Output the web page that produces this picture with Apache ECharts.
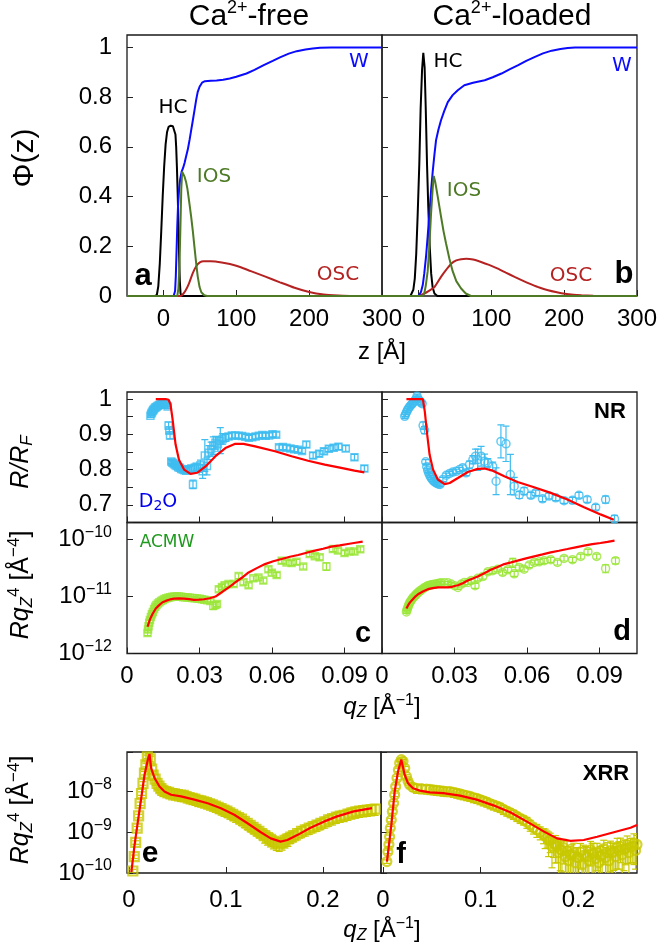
<!DOCTYPE html>
<html><head><meta charset="utf-8">
<script src="https://cdn.jsdelivr.net/npm/echarts@6/dist/echarts.min.js"></script>
<style>html,body{margin:0;padding:0;background:#fff}#c{width:660px;height:946px}</style>
</head><body><div id="c"></div>
<script>
const F = "'Liberation Sans', Arial, Helvetica, sans-serif";
const FD = "'DejaVu Sans', Verdana, sans-serif";

// ---------- Panel a (Ca2+-free) volume fraction profiles ----------
const zHCa = [-50,-12,-9,-7,-5,-3,-1,1,3,5,7,10,13,15,16.5,17.5,18.5,19.5,20.5,21.5,22.5,23.5,25,300];
const pHCa = [0,0,0.005,0.04,0.13,0.26,0.4,0.52,0.61,0.66,0.68,0.685,0.683,0.675,0.65,0.6,0.52,0.42,0.3,0.16,0.06,0.01,0,0];
const zWa = [-50,14,16,17,18,19,20,21.5,23,25,27,29,31,33.5,36,38,40,42.5,45,47,49.6,53,57,65,73,82,91,100,114,125,137,150,160,172,183,195,205,215,230,300];
const pWa = [0,0,0.02,0.08,0.18,0.28,0.36,0.43,0.47,0.5,0.515,0.535,0.56,0.59,0.63,0.665,0.7,0.745,0.79,0.82,0.842,0.858,0.864,0.866,0.867,0.87,0.875,0.882,0.895,0.91,0.928,0.946,0.96,0.975,0.985,0.992,0.996,0.999,1.0,1.0];
const zIOSa = [-50,19,20.5,22,23.5,24.5,25.7,27,29,31,33,35.8,38,40.4,42.5,45,47,49.6,52,56,60,300];
const pIOSa = [0,0,0.03,0.12,0.3,0.43,0.5,0.495,0.48,0.46,0.43,0.37,0.32,0.26,0.2,0.13,0.08,0.036,0.015,0.003,0,0];
const zOSCa = [-50,23,26,30,35,40,45,50,55,65,80,100,120,140,160,180,200,220,240,260,300];
const pOSCa = [0,0,0.005,0.02,0.05,0.09,0.12,0.135,0.14,0.14,0.135,0.122,0.1,0.078,0.055,0.033,0.016,0.006,0.002,0,0];

// ---------- Panel b (Ca2+-loaded) ----------
const zHCb = [-50,-11,-9,-7,-5,-3,-1,1.2,3,5,6.7,8.5,10,11.8,13.5,15.5,17.5,19.5,22,26,300];
const pHCb = [0,0,0.005,0.025,0.07,0.17,0.33,0.53,0.75,0.91,0.978,0.92,0.76,0.53,0.36,0.2,0.09,0.035,0.01,0,0];
const zWb = [-50,0,3.5,6,8,10.5,12.7,15,17.5,19.6,22,24.2,27.5,31,35.5,40.3,47,54,63,75,91,102,114,125,137,148,160,171,183,195,205,215,300];
const pWb = [0,0,0.016,0.045,0.09,0.16,0.24,0.33,0.43,0.5,0.57,0.627,0.67,0.707,0.745,0.78,0.808,0.828,0.848,0.858,0.868,0.88,0.895,0.912,0.929,0.946,0.962,0.976,0.987,0.994,0.998,1.0,1.0];
const zIOSb = [-50,6,8,10,12.7,15,17.3,19.5,21,23,26.5,31,34.5,38,42.5,47,52,58.6,65,72,300];
const pIOSb = [0,0,0.01,0.04,0.1,0.2,0.33,0.43,0.483,0.46,0.4,0.32,0.26,0.21,0.15,0.1,0.06,0.03,0.01,0,0];
const zOSCb = [-50,-1,8,15,22,31,38,45,52,58.6,65.5,75,86,97,109,120,132,143,155,166,178,190,201,213,224,240,261,300];
const pOSCb = [0,0,0.01,0.022,0.036,0.077,0.105,0.13,0.143,0.148,0.15,0.147,0.137,0.125,0.11,0.094,0.077,0.062,0.047,0.034,0.023,0.015,0.009,0.005,0.003,0.001,0,0];

// ---------- NR (D2O), R/RF ----------
const nrFreeQ = [0.0097,0.0100,0.0103,0.0106,0.0109,0.0112,0.0116,0.0120,0.0124,0.0128,0.0133,0.0138,0.0143,0.0148,0.0153,0.0158,0.0163,0.0168,0.0172,0.0175,0.0178,
  0.0183,0.0187,0.0191,0.0196,0.0201,0.0206,0.0212,0.0218,0.0224,0.0231,0.0238,0.0245,0.0252,0.0259,0.0266,0.0273,0.0280,0.0288,0.0296,0.0304,0.0313,
  0.0322,0.0331,0.0339,0.0348,0.0357,0.0366,0.0376,0.0386,0.0396,0.0407,0.0420,0.0434,0.0448,0.0462,0.0476,0.0490,0.0504,0.0518,0.0532,0.0546,0.0560,0.0574,0.0588,0.0602,0.0617,
  0.0629,0.0645,0.0660,0.0676,0.0692,0.0708,0.0724,0.0742,0.0770,0.0795,0.0815,0.0835,0.0855,0.0875,0.0905,0.0941,0.0982];
const nrFreeR = [0.953,0.958,0.962,0.966,0.969,0.972,0.975,0.977,0.979,0.981,0.983,0.984,0.985,0.986,0.986,0.985,0.984,0.979,0.925,0.911,0.897,
  0.823,0.820,0.818,0.815,0.812,0.810,0.807,0.805,0.802,0.800,0.798,0.797,0.799,0.801,0.803,0.758,0.805,0.808,0.803,0.812,0.795,
  0.840,0.810,0.848,0.858,0.868,0.876,0.872,0.882,0.887,0.890,0.894,0.897,0.897,0.896,0.895,0.893,0.890,0.892,0.894,0.896,0.898,0.896,0.897,0.900,0.899,
  0.863,0.864,0.862,0.860,0.858,0.856,0.853,0.871,0.840,0.845,0.852,0.859,0.862,0.865,0.860,0.835,0.803];
const nrFreeErr = [0.005,0.005,0.005,0.005,0.005,0.005,0.005,0.005,0.005,0.005,0.005,0.005,0.005,0.005,0.005,0.005,0.005,0.006,0.010,0.010,0.010,
  0.006,0.006,0.006,0.006,0.006,0.006,0.006,0.006,0.006,0.007,0.007,0.007,0.008,0.008,0.009,0.012,0.010,0.010,0.010,0.015,0.020,
  0.045,0.025,0.020,0.020,0.025,0.018,0.020,0.037,0.015,0.010,0.008,0.008,0.008,0.007,0.007,0.007,0.007,0.007,0.007,0.007,0.007,0.007,0.007,0.007,0.007,
  0.007,0.007,0.007,0.007,0.007,0.007,0.007,0.008,0.008,0.008,0.008,0.008,0.008,0.008,0.008,0.008,0.008];
const nrFreeFitQ = [0.0119,0.0140,0.0160,0.0172,0.0180,0.0188,0.0201,0.0215,0.0236,0.0263,0.0290,0.0325,0.0366,0.0407,0.0448,0.0482,0.0530,0.0612,0.0681,0.0749,0.0818,0.0886,0.0941,0.0982];
const nrFreeFitR = [1.0,1.0,1.0,0.998,0.985,0.946,0.871,0.828,0.800,0.788,0.791,0.809,0.838,0.861,0.873,0.873,0.866,0.852,0.838,0.825,0.814,0.805,0.797,0.792];

const nrLoadQ = [0.0094,0.0097,0.0101,0.0105,0.0109,0.0114,0.0119,0.0124,0.0129,0.0135,0.0140,0.0145,0.0150,0.0156,0.0161,0.0166,0.0170,0.0176,
  0.0181,0.0185,0.0189,0.0193,0.0198,0.0203,0.0208,0.0213,0.0218,0.0224,0.0230,0.0236,0.0240,
  0.0252,0.0266,0.0280,0.0293,0.0307,0.0321,0.0334,0.0348,0.0362,0.0376,0.0387,0.0396,0.0410,0.0424,0.0438,0.0458,0.0472,0.0492,0.0513,0.0531,0.0547,
  0.0568,0.0588,0.0616,0.0636,0.0664,0.0691,0.0719,0.0753,0.0788,0.0815,0.0849,0.0884,0.0925,0.0962];
const nrLoadR = [0.951,0.956,0.962,0.968,0.973,0.978,0.982,0.986,0.990,0.995,1.000,1.008,1.000,0.995,0.990,0.987,0.925,0.912,
  0.822,0.808,0.798,0.790,0.783,0.777,0.772,0.768,0.765,0.762,0.760,0.759,0.758,
  0.772,0.784,0.789,0.793,0.795,0.800,0.805,0.791,0.814,0.828,0.838,0.828,0.838,0.824,0.819,0.809,0.767,0.880,0.873,0.786,0.753,
  0.728,0.739,0.727,0.734,0.717,0.725,0.720,0.712,0.713,0.727,0.715,0.693,0.715,0.660];
const nrLoadErr = [0.006,0.006,0.006,0.006,0.006,0.006,0.006,0.006,0.006,0.006,0.006,0.006,0.006,0.006,0.006,0.006,0.010,0.010,
  0.006,0.006,0.006,0.006,0.006,0.006,0.006,0.006,0.006,0.006,0.006,0.006,0.006,
  0.006,0.006,0.006,0.006,0.006,0.006,0.008,0.008,0.010,0.012,0.020,0.030,0.028,0.020,0.012,0.012,0.038,0.047,0.050,0.057,0.025,
  0.010,0.010,0.008,0.008,0.008,0.008,0.008,0.008,0.008,0.008,0.008,0.008,0.010,0.010];
const nrLoadFitQ = [0.0101,0.0130,0.0169,0.0172,0.0177,0.0187,0.0197,0.0211,0.0231,0.0259,0.0280,0.0314,0.0355,0.0396,0.0424,0.0458,0.0506,0.0561,0.0629,0.0698,0.0767,0.0836,0.0904,0.0959];
const nrLoadFitR = [1.0,1.0,1.0,0.995,0.965,0.899,0.842,0.800,0.772,0.759,0.762,0.776,0.793,0.802,0.803,0.797,0.781,0.765,0.750,0.734,0.715,0.693,0.673,0.658];

// ---------- NR (ACMW), R qz^4 ----------
const acmwFreeQ = [0.0085,0.0087,0.0089,0.0092,0.0095,0.0099,0.0103,0.0107,0.0112,0.0117,0.0122,0.0128,0.0134,0.0141,0.0148,0.0155,0.0163,0.0171,0.0179,0.0188,
  0.0197,0.0206,0.0215,0.0224,0.0233,0.0242,0.0251,0.0260,0.0270,0.0280,0.0290,0.0300,0.0310,0.0320,0.0332,0.0345,0.0357,0.0366,0.0372,
  0.0380,0.0393,0.0404,0.0420,0.0441,0.0462,0.0482,0.0503,0.0523,0.0544,0.0564,0.0585,0.0599,0.0619,0.0640,0.0660,0.0681,0.0701,0.0729,0.0756,0.0777,0.0797,0.0825,0.0852,0.0873,0.0900,0.0920,0.0941,0.0965];
const acmwFreeR = [2.29e-12,2.63e-12,3.02e-12,3.47e-12,3.89e-12,4.37e-12,4.90e-12,5.37e-12,6.03e-12,6.61e-12,7.08e-12,7.59e-12,7.94e-12,8.32e-12,8.71e-12,9.02e-12,9.33e-12,9.55e-12,9.77e-12,9.89e-12,
  1.0e-11,1.0e-11,1.0e-11,9.89e-12,9.77e-12,9.73e-12,9.59e-12,9.55e-12,9.44e-12,9.33e-12,9.23e-12,9.12e-12,8.97e-12,8.81e-12,8.61e-12,8.39e-12,6.92e-12,7.08e-12,7.41e-12,
  1.35e-11,1.48e-11,1.58e-11,1.66e-11,1.66e-11,2.29e-11,1.78e-11,1.58e-11,2.09e-11,2.16e-11,1.91e-11,3.02e-11,2.63e-11,2.40e-11,4.27e-11,3.98e-11,3.89e-11,4.07e-11,3.39e-11,5.62e-11,5.13e-11,4.90e-11,3.39e-11,6.84e-11,6.46e-11,5.82e-11,6.17e-11,6.17e-11,6.76e-11];
const acmwFreeErr = [0.1,0.1,0.1,0.1,0.1,0.08,0.08,0.08,0.08,0.08,0.06,0.06,0.06,0.06,0.06,0.06,0.06,0.06,0.06,0.06,
  0.06,0.06,0.06,0.06,0.06,0.06,0.06,0.06,0.06,0.06,0.06,0.06,0.06,0.06,0.06,0.08,0.15,0.12,0.10,
  0.10,0.10,0.10,0.10,0.10,0.10,0.10,0.10,0.10,0.10,0.10,0.10,0.10,0.10,0.10,0.10,0.10,0.10,0.10,0.10,0.10,0.10,0.15,0.10,0.10,0.10,0.10,0.10,0.10];
const acmwFreeFitQ = [0.0085,0.0095,0.0105,0.0119,0.0133,0.0147,0.0160,0.0178,0.0195,0.0215,0.0236,0.0257,0.0277,0.0298,0.0318,0.0342,0.0366,0.0383,0.0400,0.0424,
  0.0448,0.0475,0.0503,0.0537,0.0571,0.0605,0.0640,0.0674,0.0708,0.0743,0.0777,0.0811,0.0845,0.0880,0.0914,0.0945,0.0975];
const acmwFreeFitR = [2.95e-12,3.98e-12,4.90e-12,6.17e-12,7.08e-12,7.94e-12,8.39e-12,8.91e-12,9.23e-12,9.29e-12,9.23e-12,9.02e-12,8.73e-12,8.81e-12,8.97e-12,9.33e-12,1.0e-11,1.12e-11,1.26e-11,1.48e-11,
  1.77e-11,2.14e-11,2.65e-11,3.16e-11,3.72e-11,4.17e-11,4.57e-11,5.01e-11,5.37e-11,5.89e-11,6.40e-11,6.92e-11,7.52e-11,7.94e-11,8.39e-11,8.81e-11,9.23e-11];

const acmwLoadQ = [0.0101,0.0103,0.0105,0.0108,0.0110,0.0113,0.0117,0.0120,0.0124,0.0128,0.0133,0.0138,0.0142,0.0147,0.0152,0.0158,0.0163,0.0170,0.0177,0.0184,
  0.0190,0.0197,0.0204,0.0211,0.0218,0.0225,0.0231,0.0238,0.0245,0.0259,0.0273,0.0286,0.0300,0.0314,0.0328,0.0341,0.0355,0.0369,0.0385,0.0396,
  0.0417,0.0438,0.0458,0.0479,0.0499,0.0520,0.0541,0.0547,0.0568,0.0588,0.0609,0.0630,0.0650,0.0671,0.0698,0.0726,0.0753,0.0788,0.0822,0.0852,0.0888,0.0925,0.0966];
const acmwLoadR = [5.37e-12,5.75e-12,6.17e-12,6.61e-12,7.03e-12,7.59e-12,8.05e-12,8.51e-12,8.97e-12,9.55e-12,1.0e-11,1.05e-11,1.10e-11,1.15e-11,1.21e-11,1.26e-11,1.31e-11,1.38e-11,1.45e-11,1.50e-11,
  1.55e-11,1.58e-11,1.61e-11,1.63e-11,1.65e-11,1.67e-11,1.70e-11,1.72e-11,1.74e-11,1.74e-11,1.74e-11,1.66e-11,1.55e-11,1.45e-11,1.66e-11,1.77e-11,1.77e-11,1.91e-11,1.55e-11,2.09e-11,
  2.25e-11,2.72e-11,2.84e-11,3.03e-11,2.65e-11,2.95e-11,3.98e-11,2.51e-11,3.25e-11,3.03e-11,3.57e-11,3.98e-11,4.07e-11,4.27e-11,4.44e-11,3.98e-11,4.68e-11,4.44e-11,5.08e-11,6.14e-11,5.08e-11,3.12e-11,4.27e-11];
const acmwLoadErr = [0.06,0.06,0.06,0.06,0.06,0.06,0.06,0.06,0.06,0.06,0.06,0.06,0.06,0.06,0.06,0.06,0.06,0.06,0.06,0.06,
  0.06,0.06,0.06,0.06,0.06,0.06,0.06,0.06,0.06,0.06,0.06,0.06,0.08,0.08,0.08,0.08,0.08,0.10,0.10,0.10,
  0.10,0.10,0.10,0.10,0.10,0.10,0.18,0.10,0.10,0.10,0.10,0.10,0.10,0.10,0.10,0.10,0.10,0.10,0.10,0.10,0.10,0.16,0.12];
const acmwLoadFitQ = [0.0101,0.0111,0.0121,0.0135,0.0149,0.0169,0.0190,0.0210,0.0231,0.0252,0.0273,0.0293,0.0314,0.0334,0.0355,0.0376,0.0396,0.0423,0.0450,0.0478,
  0.0506,0.0534,0.0561,0.0596,0.0630,0.0664,0.0698,0.0732,0.0767,0.0801,0.0836,0.0870,0.0904,0.0933,0.0962];
const acmwLoadFitR = [6.17e-12,7.41e-12,8.39e-12,9.77e-12,1.10e-11,1.23e-11,1.35e-11,1.41e-11,1.45e-11,1.45e-11,1.45e-11,1.50e-11,1.58e-11,1.72e-11,1.91e-11,2.07e-11,2.25e-11,2.57e-11,2.95e-11,3.31e-11,
  3.72e-11,3.98e-11,4.27e-11,4.68e-11,5.08e-11,5.50e-11,5.97e-11,6.38e-11,6.84e-11,7.33e-11,7.83e-11,8.32e-11,8.73e-11,9.12e-11,9.59e-11];

// ---------- XRR, R qz^4 ----------
const xrrFreeQ = [0.0040,0.0055,0.0070,0.0085,0.0100,0.0115,0.0130,0.0145,0.0160,0.0175,0.0190,0.0205,0.0220,0.0235,0.0250,0.0270,0.0290,0.0310,0.0330,0.0350,
  0.0380,0.0410,0.0440,0.0470,0.0500,0.0530,0.0560,0.0590,0.0620,0.0650,0.0680,0.0710,0.0740,0.0770,0.0800,0.0830,0.0860,0.0890,0.0920,0.0950,
  0.0980,0.1010,0.1040,0.1070,0.1100,0.1130,0.1160,0.1190,0.1220,0.1250,0.1280,0.1310,0.1340,0.1370,0.1400,0.1430,0.1460,0.1490,0.1520,0.1550,
  0.1580,0.1610,0.1640,0.1670,0.1700,0.1740,0.1780,0.1820,0.1860,0.1900,0.1940,0.1980,0.2020,0.2060,0.2100,0.2140,0.2180,0.2220,0.2260,0.2300,
  0.2340,0.2380,0.2420,0.2460,0.2500,0.2540];
const xrrFreeR = [1.12e-10,2.51e-10,5.62e-10,1.26e-9,2.51e-9,5.01e-9,8.91e-9,1.58e-8,2.82e-8,4.47e-8,7.08e-8,9.55e-8,6.31e-8,3.55e-8,2.51e-8,2.0e-8,1.58e-8,1.35e-8,1.17e-8,1.07e-8,
  1.0e-8,9.5e-9,8.9e-9,8.8e-9,8.4e-9,8.1e-9,8.0e-9,7.5e-9,7.1e-9,6.8e-9,6.5e-9,6.1e-9,5.9e-9,5.6e-9,5.3e-9,5.0e-9,4.7e-9,4.4e-9,4.1e-9,3.8e-9,
  3.5e-9,3.3e-9,3.0e-9,2.75e-9,2.5e-9,2.3e-9,2.1e-9,1.86e-9,1.66e-9,1.48e-9,1.32e-9,1.17e-9,1.05e-9,9.3e-10,8.3e-10,7.4e-10,6.7e-10,6.0e-10,5.5e-10,5.2e-10,
  5.6e-10,6.3e-10,6.9e-10,7.6e-10,8.3e-10,9.3e-10,1.05e-9,1.15e-9,1.26e-9,1.38e-9,1.5e-9,1.65e-9,1.8e-9,2.0e-9,2.15e-9,2.35e-9,2.5e-9,2.6e-9,2.8e-9,3.0e-9,
  3.15e-9,3.3e-9,3.4e-9,3.5e-9,3.6e-9,3.7e-9];
const xrrFreeErr = [0.1,0.1,0.1,0.1,0.1,0.1,0.1,0.1,0.1,0.1,0.1,0.1,0.15,0.2,0.25,0.3,0.3,0.3,0.3,0.3,
  0.3,0.3,0.3,0.3,0.3,0.3,0.3,0.3,0.3,0.3,0.3,0.3,0.3,0.3,0.3,0.3,0.3,0.3,0.3,0.3,
  0.3,0.3,0.3,0.3,0.3,0.3,0.3,0.3,0.3,0.3,0.3,0.3,0.3,0.3,0.35,0.35,0.35,0.35,0.35,0.35,
  0.35,0.35,0.35,0.3,0.3,0.3,0.3,0.3,0.3,0.3,0.3,0.3,0.3,0.3,0.3,0.3,0.3,0.3,0.3,0.3,
  0.3,0.3,0.3,0.3,0.3,0.3];
const xrrFreeFitQ = [0.0025,0.0058,0.0092,0.0127,0.0161,0.0195,0.0212,0.0229,0.0264,0.0315,0.0366,0.0435,0.0538,0.0675,0.0812,0.0949,0.1086,0.1223,0.1360,0.1462,
  0.1565,0.1634,0.1736,0.1873,0.2010,0.2147,0.2318,0.2507];
const xrrFreeFitR = [1.05e-10,4.9e-10,1.82e-9,6.92e-9,2.57e-8,6.03e-8,8.32e-8,3.72e-8,2.14e-8,1.32e-8,1.0e-8,8.32e-9,7.59e-9,6.31e-9,5.13e-9,3.89e-9,2.69e-9,1.66e-9,1.0e-9,7.08e-10,
  5.89e-10,6.46e-10,8.51e-10,1.29e-9,1.82e-9,2.45e-9,3.24e-9,3.89e-9];

const xrrLoadQ = [0.0040,0.0051,0.0061,0.0068,0.0075,0.0085,0.0096,0.0109,0.0120,0.0130,0.0144,0.0158,0.0171,0.0188,0.0205,0.0223,0.0240,0.0257,0.0274,0.0308,
  0.0342,0.0394,0.0445,0.0480,0.0514,0.0548,0.0582,0.0617,0.0651,0.0685,0.0720,0.0754,0.0788,0.0822,0.0856,0.0890,0.0925,0.0959,0.0993,0.1027,
  0.1062,0.1096,0.1130,0.1165,0.1199,0.1233,0.1267,0.1302,0.1336,0.1370,0.1404,0.1438,0.1473,0.1507,0.1541,0.1575,0.1610,0.1644,0.1678,0.1712,
  0.1747,0.1781,0.1815,0.1850,0.1884,0.1918,0.1952,0.1987,0.2021,0.2055,0.2090,0.2124,0.2158,0.2192,0.2226,0.2260,0.2295,0.2329,0.2363,0.2397,
  0.2432,0.2466,0.2500,0.2534,0.2569,0.2600];
const xrrLoadR = [1.91e-10,3.31e-10,5.01e-10,7.76e-10,1.26e-9,2.0e-9,3.24e-9,5.13e-9,8.32e-9,1.32e-8,2.14e-8,3.39e-8,5.01e-8,6.03e-8,5.5e-8,3.72e-8,2.34e-8,1.78e-8,1.45e-8,1.26e-8,
  1.2e-8,1.17e-8,1.15e-8,1.12e-8,1.1e-8,1.07e-8,1.05e-8,1.02e-8,1.0e-8,1.0e-8,9.55e-9,9.12e-9,8.71e-9,8.32e-9,7.94e-9,7.59e-9,7.08e-9,6.76e-9,6.31e-9,5.89e-9,
  5.5e-9,5.01e-9,4.68e-9,4.37e-9,4.07e-9,3.63e-9,3.31e-9,3.02e-9,2.75e-9,2.45e-9,2.19e-9,2.0e-9,1.78e-9,1.51e-9,1.29e-9,1.15e-9,1.0e-9,8.71e-10,7.41e-10,6.31e-10,
  5.37e-10,4.47e-10,3.8e-10,4.17e-10,3.47e-10,2.75e-10,3.16e-10,2.4e-10,3.31e-10,2.75e-10,2.51e-10,3.72e-10,3.02e-10,3.24e-10,2.63e-10,3.98e-10,3.16e-10,3.55e-10,3.31e-10,4.17e-10,
  4.47e-10,3.8e-10,4.9e-10,4.37e-10,5.37e-10,5.01e-10];
const xrrLoadErr = [0.1,0.1,0.1,0.1,0.1,0.1,0.1,0.1,0.1,0.1,0.1,0.1,0.1,0.1,0.1,0.1,0.1,0.1,0.15,0.2,
  0.25,0.25,0.25,0.25,0.25,0.25,0.25,0.25,0.25,0.25,0.25,0.25,0.25,0.25,0.25,0.25,0.25,0.25,0.25,0.25,
  0.25,0.25,0.25,0.25,0.25,0.25,0.25,0.25,0.25,0.25,0.25,0.25,0.3,0.3,0.3,0.35,0.35,0.4,0.45,0.5,
  0.55,0.6,0.7,0.6,0.75,0.65,0.7,0.75,0.6,0.75,0.7,0.6,0.75,0.65,0.7,0.6,0.75,0.7,0.65,0.7,
  0.6,0.7,0.65,0.6,0.7,0.65];
const xrrLoadQ2 = [0.1660,0.1695,0.1730,0.1765,0.1798,0.1832,0.1867,0.1901,0.1935,0.1970,0.2004,0.2038,0.2073,0.2107,0.2141,0.2175,0.2209,0.2243,0.2278,0.2312,
  0.2346,0.2380,0.2414,0.2449,0.2483,0.2517,0.2551,0.2585];
const xrrLoadR2 = [7.94e-10,6.31e-10,4.47e-10,5.01e-10,3.16e-10,3.55e-10,2.51e-10,2.0e-10,2.82e-10,1.78e-10,2.4e-10,1.58e-10,2.63e-10,2.0e-10,3.16e-10,2.24e-10,1.78e-10,2.82e-10,2.4e-10,2.0e-10,
  3.16e-10,2.51e-10,3.55e-10,2.82e-10,3.98e-10,3.16e-10,4.47e-10,3.55e-10];
const xrrLoadErr2 = [0.5,0.6,0.7,0.65,0.75,0.7,0.8,0.8,0.75,0.8,0.75,0.8,0.7,0.8,0.7,0.75,0.8,0.7,0.75,0.8,
  0.7,0.75,0.65,0.7,0.6,0.7,0.6,0.65];
const xrrLoadFitQ = [0.0041,0.0086,0.0120,0.0154,0.0188,0.0222,0.0257,0.0308,0.0377,0.0480,0.0617,0.0788,0.0959,0.1130,0.1302,0.1473,0.1644,0.1781,0.1918,0.2055,0.2192,0.2363,0.2534,0.2600];
const xrrLoadFitR = [1.91e-10,1.51e-9,1.0e-8,3.09e-8,6.03e-8,2.57e-8,1.58e-8,1.2e-8,1.05e-8,9.55e-9,9.12e-9,7.94e-9,6.31e-9,4.57e-9,3.09e-9,1.82e-9,1.05e-9,7.08e-10,6.17e-10,6.46e-10,7.76e-10,1.0e-9,1.29e-9,1.51e-9];

// ---------- tick values ----------
const zTicks = [0,100,200,300];
const phiTicks = [0,0.2,0.4,0.6,0.8,1];
const qNRTicks = [0,0.03,0.06,0.09];
const rrfTicks = [0.7,0.75,0.8,0.85,0.9,0.95,1];
const rrfLabels = [0.7,0.8,0.9,1];
const qXRRTicks = [0,0.1,0.2];

// ---------- colours ----------
const C_HC = '#000000', C_W = '#0a0aff', C_IOS = '#4e7a26', C_OSC = '#b52222';
const C_NR = '#3fbdf0', C_ACMW = '#9be63a', C_XRR = '#c8c800', C_FIT = '#ff0000';

// ---------- layout ----------
const grids = [
  {left:127, top:35, width:255, height:261},
  {left:382, top:35, width:255, height:261},
  {left:127, top:392, width:255, height:130.5},
  {left:382, top:392, width:255, height:130.5},
  {left:127, top:522.5, width:255, height:131},
  {left:382, top:522.5, width:255, height:131},
  {left:127, top:752, width:254, height:121},
  {left:381, top:752, width:256, height:121}
].map(g => Object.assign({show:true, borderColor:'#1a1a1a', borderWidth:1.3, backgroundColor:'rgba(0,0,0,0)'}, g));

const tickStyle = {show:true, inside:true, length:6, lineStyle:{color:'#222', width:1}};
const labStyle = {color:'#000', fontSize:24, fontFamily:F};
const noLine = {show:false, onZero:false};

function xAx(i, min, max, ticks, show, margin) {
  return {type:'value', gridIndex:i, position:'bottom', min, max, axisLine:noLine, splitLine:{show:false},
    axisTick:Object.assign({customValues:ticks}, tickStyle),
    axisLabel:Object.assign({show, customValues:ticks, margin}, labStyle)};
}
function yAx(i, min, max, ticks, labels, show) {
  return {type:'value', gridIndex:i, position:'left', min, max, axisLine:noLine, splitLine:{show:false},
    axisTick:Object.assign({customValues:ticks}, tickStyle),
    axisLabel:Object.assign({show, customValues:labels, margin:15}, labStyle)};
}
function logFmt(v) {
  const e = Math.log10(v), r = Math.round(e);
  if (Math.abs(e - r) > 1e-3) return '';
  return '{b|10}{s|' + (r < 0 ? '\u2212' : '') + Math.abs(r) + '}';
}
function yLog(i, min, max, show) {
  return {type:'log', logBase:10, gridIndex:i, position:'left', min, max, axisLine:noLine, splitLine:{show:false},
    axisTick:tickStyle,
    axisLabel:{show, margin:15, formatter:logFmt, color:'#000',
      rich:{b:{fontSize:24, fontFamily:F, color:'#000', lineHeight:30},
            s:{fontSize:16, fontFamily:F, color:'#000', lineHeight:16, verticalAlign:'top'}}}};
}

const xAxes = [
  xAx(0, -50, 300, zTicks, true, 11), xAx(1, -50, 300, zTicks, true, 11),
  xAx(2, 0, 0.1055, qNRTicks, false, 11), xAx(3, 0, 0.1055, qNRTicks, false, 11),
  xAx(4, 0, 0.1055, qNRTicks, true, 11), xAx(5, 0, 0.1055, qNRTicks, true, 11),
  xAx(6, -0.002, 0.26, qXRRTicks, true, 15), xAx(7, -0.002, 0.26, qXRRTicks, true, 15)
];
const yAxes = [
  yAx(0, 0, 1.05, phiTicks, phiTicks, true), yAx(1, 0, 1.05, phiTicks, phiTicks, false),
  yAx(2, 0.65, 1.02, rrfTicks, rrfLabels, true), yAx(3, 0.65, 1.02, rrfTicks, rrfLabels, false),
  yLog(4, 1e-12, 2e-10, true), yLog(5, 1e-12, 2e-10, false),
  yLog(6, 1e-10, 9.3e-8, true), yLog(7, 1e-10, 9.3e-8, false)
];

function pts(xs, ys) { return xs.map((x, k) => [x, ys[k]]); }
function prof(i, zs, ps, color, smooth) {
  return {type:'line', xAxisIndex:i, yAxisIndex:i, data:pts(zs, ps), showSymbol:false, symbol:'none',
    smooth, lineStyle:{color, width:2}, silent:true, clip:true, z:3};
}
function fit(i, xs, ys, smooth) {
  return {type:'line', xAxisIndex:i, yAxisIndex:i, data:pts(xs, ys), showSymbol:false, symbol:'none',
    smooth, lineStyle:{color:C_FIT, width:2.2}, silent:true, clip:true, z:6};
}
function scat(i, xs, ys, sym, size, color, bw) {
  return {type:'scatter', xAxisIndex:i, yAxisIndex:i, data:pts(xs, ys), symbol:sym, symbolSize:size,
    itemStyle:{color:'rgba(0,0,0,0)', borderColor:color, borderWidth:bw}, silent:true, clip:true, z:4};
}
function errs(i, xs, ys, es, rel, color, cap) {
  const data = xs.map((x, k) => { const e = rel ? ys[k] * es[k] : es[k]; return [x, ys[k] - e, ys[k] + e]; });
  return {type:'custom', xAxisIndex:i, yAxisIndex:i, data, encode:{x:0, y:[1, 2]}, silent:true, clip:true, z:4,
    renderItem(params, api) {
      const a = api.coord([api.value(0), api.value(1)]);
      const b = api.coord([api.value(0), api.value(2)]);
      const st = {stroke:color, lineWidth:1.2};
      return {type:'group', children:[
        {type:'line', shape:{x1:a[0], y1:a[1], x2:b[0], y2:b[1]}, style:st},
        {type:'line', shape:{x1:a[0]-cap, y1:a[1], x2:a[0]+cap, y2:a[1]}, style:st},
        {type:'line', shape:{x1:b[0]-cap, y1:b[1], x2:b[0]+cap, y2:b[1]}, style:st}]};
    }};
}

const series = [
  prof(0, zHCa, pHCa, C_HC, false), prof(0, zOSCa, pOSCa, C_OSC, 0.2), prof(0, zWa, pWa, C_W, false), prof(0, zIOSa, pIOSa, C_IOS, false),
  prof(1, zHCb, pHCb, C_HC, false), prof(1, zOSCb, pOSCb, C_OSC, 0.2), prof(1, zWb, pWb, C_W, false), prof(1, zIOSb, pIOSb, C_IOS, false),
  errs(2, nrFreeQ, nrFreeR, nrFreeErr, false, C_NR, 3.5), scat(2, nrFreeQ, nrFreeR, 'rect', 7, C_NR, 1.5), fit(2, nrFreeFitQ, nrFreeFitR, false),
  errs(3, nrLoadQ, nrLoadR, nrLoadErr, false, C_NR, 3.5), scat(3, nrLoadQ, nrLoadR, 'circle', 8, C_NR, 1.5), fit(3, nrLoadFitQ, nrLoadFitR, false),
  errs(4, acmwFreeQ, acmwFreeR, acmwFreeErr, true, C_ACMW, 3.5), scat(4, acmwFreeQ, acmwFreeR, 'rect', 7, C_ACMW, 1.5), fit(4, acmwFreeFitQ, acmwFreeFitR, false),
  errs(5, acmwLoadQ, acmwLoadR, acmwLoadErr, true, C_ACMW, 3.5), scat(5, acmwLoadQ, acmwLoadR, 'circle', 8, C_ACMW, 1.5), fit(5, acmwLoadFitQ, acmwLoadFitR, false),
  errs(6, xrrFreeQ, xrrFreeR, xrrFreeErr, true, C_XRR, 3.5), scat(6, xrrFreeQ, xrrFreeR, 'rect', 9, C_XRR, 2.2), fit(6, xrrFreeFitQ, xrrFreeFitR, false),
  errs(7, xrrLoadQ, xrrLoadR, xrrLoadErr, true, C_XRR, 3.5), scat(7, xrrLoadQ, xrrLoadR, 'circle', 9, C_XRR, 2.2),
  errs(7, xrrLoadQ2, xrrLoadR2, xrrLoadErr2, true, C_XRR, 3.5), scat(7, xrrLoadQ2, xrrLoadR2, 'circle', 9, C_XRR, 2.2),
  fit(7, xrrLoadFitQ, xrrLoadFitR, false)
];

// ---------- texts ----------
function T(x, y, text, style, extra) {
  return Object.assign({type:'text', x, y, z:100, silent:true,
    style:Object.assign({text, fill:'#000', align:'center', verticalAlign:'middle'}, style)}, extra || {});
}
const titleRich = {n:{fontSize:30, fontFamily:F, lineHeight:36}, s:{fontSize:18, fontFamily:F, lineHeight:18, verticalAlign:'top'}};
const qRich = {i:{fontSize:24, fontFamily:F, fontStyle:'italic', lineHeight:28}, z:{fontSize:16, fontFamily:F, fontStyle:'italic', lineHeight:16, verticalAlign:'bottom'},
  n:{fontSize:24, fontFamily:F, lineHeight:28}, s:{fontSize:16, fontFamily:F, lineHeight:16, verticalAlign:'top'}};
const rqRich = {i:{fontSize:25, fontFamily:F, fontStyle:'italic', lineHeight:30}, z:{fontSize:17, fontFamily:F, fontStyle:'italic', lineHeight:17, verticalAlign:'bottom'},
  n:{fontSize:25, fontFamily:F, lineHeight:30}, s:{fontSize:17, fontFamily:F, lineHeight:17, verticalAlign:'top'}};
const rot = {rotation:Math.PI / 2};
const fCurve = {fontSize:20, fontFamily:FD};

const texts = [
  T(249, 17, '{n|Ca}{s|2+}{n|-free}', {rich:titleRich}),
  T(512, 17, '{n|Ca}{s|2+}{n|-loaded}', {rich:titleRich}),
  T(382, 352, 'z [\u00c5]', {fontSize:24, fontFamily:F}),
  T(382, 707, '{i|q}{z|Z}{n| [\u00c5}{s|\u22121}{n|]}', {rich:qRich}),
  T(382, 930, '{i|q}{z|Z}{n| [\u00c5}{s|\u22121}{n|]}', {rich:qRich}),
  T(25, 158, '\u03a6(z)', {fontSize:30, fontFamily:F}, rot),
  T(21, 462, '{i|R/R}{z|F}', {rich:{i:{fontSize:25, fontFamily:F, fontStyle:'italic', lineHeight:30}, z:{fontSize:17, fontFamily:F, fontStyle:'italic', lineHeight:17, verticalAlign:'bottom'}}}, rot),
  T(21, 585, '{i|Rq}{z|Z}{s|4}{n| [\u00c5}{s|\u22124}{n|]}', {rich:rqRich}, rot),
  T(21, 810, '{i|Rq}{z|Z}{s|4}{n| [\u00c5}{s|\u22124}{n|]}', {rich:rqRich}, rot),
  // panel a
  T(173, 108, 'HC', Object.assign({fill:C_HC}, fCurve)),
  T(359, 62, 'W', Object.assign({fill:C_W}, fCurve)),
  T(214, 177, 'IOS', Object.assign({fill:C_IOS}, fCurve)),
  T(338, 275, 'OSC', Object.assign({fill:C_OSC}, fCurve)),
  T(143, 276, 'a', {fontSize:31, fontWeight:'bold', fontFamily:F}),
  // panel b
  T(448, 62, 'HC', Object.assign({fill:C_HC}, fCurve)),
  T(622, 66, 'W', Object.assign({fill:C_W}, fCurve)),
  T(464, 191, 'IOS', Object.assign({fill:C_IOS}, fCurve)),
  T(571, 276, 'OSC', Object.assign({fill:C_OSC}, fCurve)),
  T(624, 274, 'b', {fontSize:31, fontWeight:'bold', fontFamily:F}),
  // NR / ACMW
  T(158, 502, '{n|D}{s|2}{n|O}', {fill:'#0000ee', rich:{n:{fontSize:19, fontFamily:FD, fill:'#0000ee', lineHeight:22}, s:{fontSize:14, fontFamily:FD, fill:'#0000ee', lineHeight:14, verticalAlign:'bottom'}}}),
  T(610, 412, 'NR', {fontSize:22, fontWeight:'bold', fontFamily:F}),
  T(167, 543, 'ACMW', {fontSize:17, fontFamily:FD, fill:'#1f9a1f'}),
  T(363, 634, 'c', {fontSize:29, fontWeight:'bold', fontFamily:F}),
  T(622, 632, 'd', {fontSize:29, fontWeight:'bold', fontFamily:F}),
  // XRR
  T(150, 854, 'e', {fontSize:30, fontWeight:'bold', fontFamily:F}),
  T(401, 855, 'f', {fontSize:29, fontWeight:'bold', fontFamily:F}),
  T(606, 774, 'XRR', {fontSize:22, fontWeight:'bold', fontFamily:F})
];

const chart = echarts.init(document.getElementById('c'), null, {renderer:'canvas'});
chart.setOption({
  animation:false,
  backgroundColor:'#ffffff',
  grid:grids,
  xAxis:xAxes,
  yAxis:yAxes,
  series,
  graphic:{elements:texts}
});
</script></body></html>
